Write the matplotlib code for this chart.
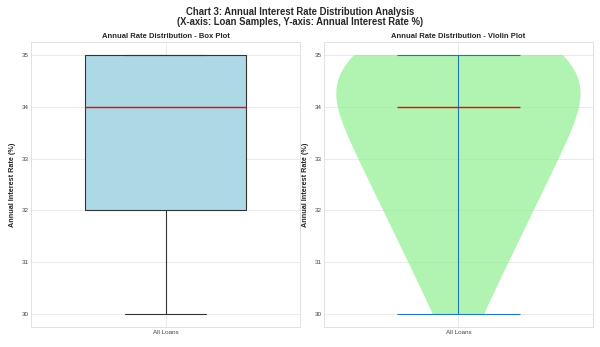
import matplotlib
matplotlib.use("Agg")
import matplotlib.pyplot as plt

# Annual interest rate samples (%)
rates = [30, 31, 31, 32, 32, 32, 33, 33, 33, 33,
         34, 34, 34, 34, 34, 35, 35, 35, 35, 35, 35]
category = ["All Loans"]

plt.style.use("seaborn-v0_8-whitegrid")
plt.rcParams["font.family"] = ["Liberation Sans", "DejaVu Sans"]

fig, (ax1, ax2) = plt.subplots(1, 2, figsize=(6, 3.47), dpi=100)
fig.subplots_adjust(left=0.052, right=0.988, top=0.879, bottom=0.058, wspace=0.09)

fig.suptitle("Chart 3: Annual Interest Rate Distribution Analysis\n"
             "(X-axis: Loan Samples, Y-axis: Annual Interest Rate %)",
             fontsize=6.85, fontweight="bold", y=0.98, linespacing=1.0)

# Box plot
ax1.boxplot(rates, patch_artist=True, widths=0.6,
            medianprops=dict(color="red", linewidth=1),
            boxprops=dict(facecolor="lightblue", edgecolor="#333333", linewidth=0.8),
            whiskerprops=dict(color="#333333", linewidth=0.8),
            capprops=dict(color="#333333", linewidth=0.8))
ax1.set_title("Annual Rate Distribution - Box Plot", fontsize=5.5, fontweight="bold", pad=3)
ax1.set_xticks([1])
ax1.set_xticklabels(category)

# Violin plot
vp = ax2.violinplot(rates, showmedians=True)
for body in vp["bodies"]:
    body.set_facecolor("lightgreen")
    body.set_edgecolor("none")
    body.set_alpha(0.7)
for key in ("cbars", "cmins", "cmaxes"):
    vp[key].set_color("#1f77b4")
    vp[key].set_linewidth(0.8)
vp["cmedians"].set_color("red")
vp["cmedians"].set_linewidth(1)
ax2.set_title("Annual Rate Distribution - Violin Plot", fontsize=5.5, fontweight="bold", pad=3)
ax2.set_xticks([1])
ax2.set_xticklabels(category)

for ax in (ax1, ax2):
    ax.set_ylabel("Annual Interest Rate (%)", fontsize=5.2, fontweight="bold", labelpad=4)
    ax.set_ylim(29.75, 35.25)
    ax.tick_params(labelsize=4.5, pad=2, length=0, labelcolor="#444444")
    ax.grid(True, color="#e6e6e6", linewidth=0.6)
    for s in ax.spines.values():
        s.set_visible(True)
        s.set_color("#dddddd")
        s.set_linewidth(0.6)

fig.savefig("out.png", dpi=100)
